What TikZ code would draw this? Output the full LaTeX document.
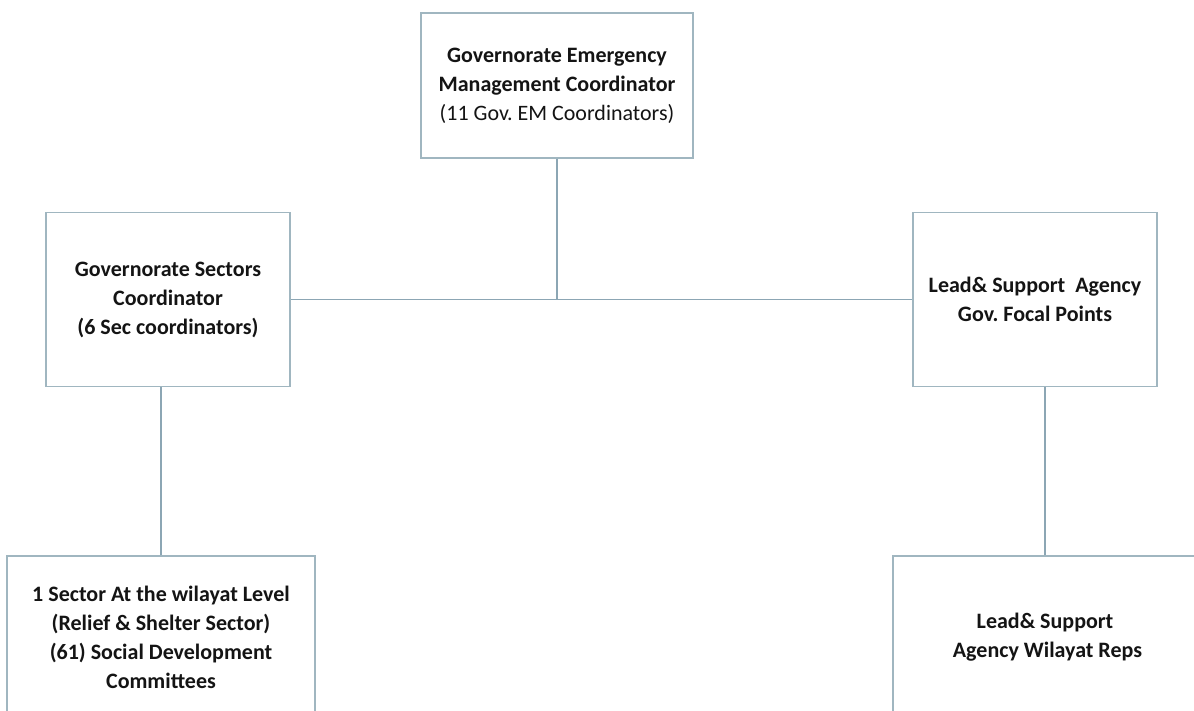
\documentclass[tikz,border=0pt]{standalone}
\usepackage{fontspec}
\setmainfont{Carlito}
\frenchspacing
\definecolor{boxline}{RGB}{160,182,192}
\definecolor{linkline}{RGB}{140,166,180}
\definecolor{ink}{RGB}{20,20,20}
\begin{document}
\begin{tikzpicture}[x=1pt,y=-1pt,
  orgbox/.style={draw=boxline, line width=1.3pt, fill=white, inner sep=0pt,
    align=center, text=ink, font=\fontsize{22}{29}\selectfont\bfseries},
  link/.style={draw=linkline, line width=1.3pt}]
\useasboundingbox (0,0) rectangle (1194,711);
\clip (0,0) rectangle (1194,711);
\fill[white] (0,0) rectangle (1194,711);

% Top-level coordinator
\node[orgbox, minimum width=272pt, minimum height=145pt] (gem) at (557,85.5)
  {Governorate Emergency\\ Management Coordinator\\ \mdseries(11 Gov. EM Coordinators)};

% Second level
\node[orgbox, minimum width=244pt, minimum height=174pt] (gsc) at (168,299.5)
  {Governorate Sectors\\ Coordinator\\ (6 Sec coordinators)};
\node[orgbox, minimum width=244pt, minimum height=174pt] (lsa) at (1035,299.5)
  {Lead\& Support\ \ Agency\\ Gov. Focal Points};

% Wilayat level (boxes run past the lower edge)
\node[orgbox, minimum width=308pt, minimum height=162pt] (sec) at (161,637)
  {1 Sector At the wilayat Level\\ (Relief \& Shelter Sector)\\ (61) Social Development\\ Committees};
\node[orgbox, minimum width=304pt, minimum height=162pt] (wil) at (1045,637)
  {Lead\& Support\\ \ Agency Wilayat Reps};

% Connectors
\draw[link] (gsc.east) -- (lsa.west);
\draw[link] (gem.south) -- (gem.south |- gsc.east);
\draw[link] (sec.north) -- (sec.north |- gsc.south);
\draw[link] (wil.north) -- (wil.north |- lsa.south);
\end{tikzpicture}
\end{document}
